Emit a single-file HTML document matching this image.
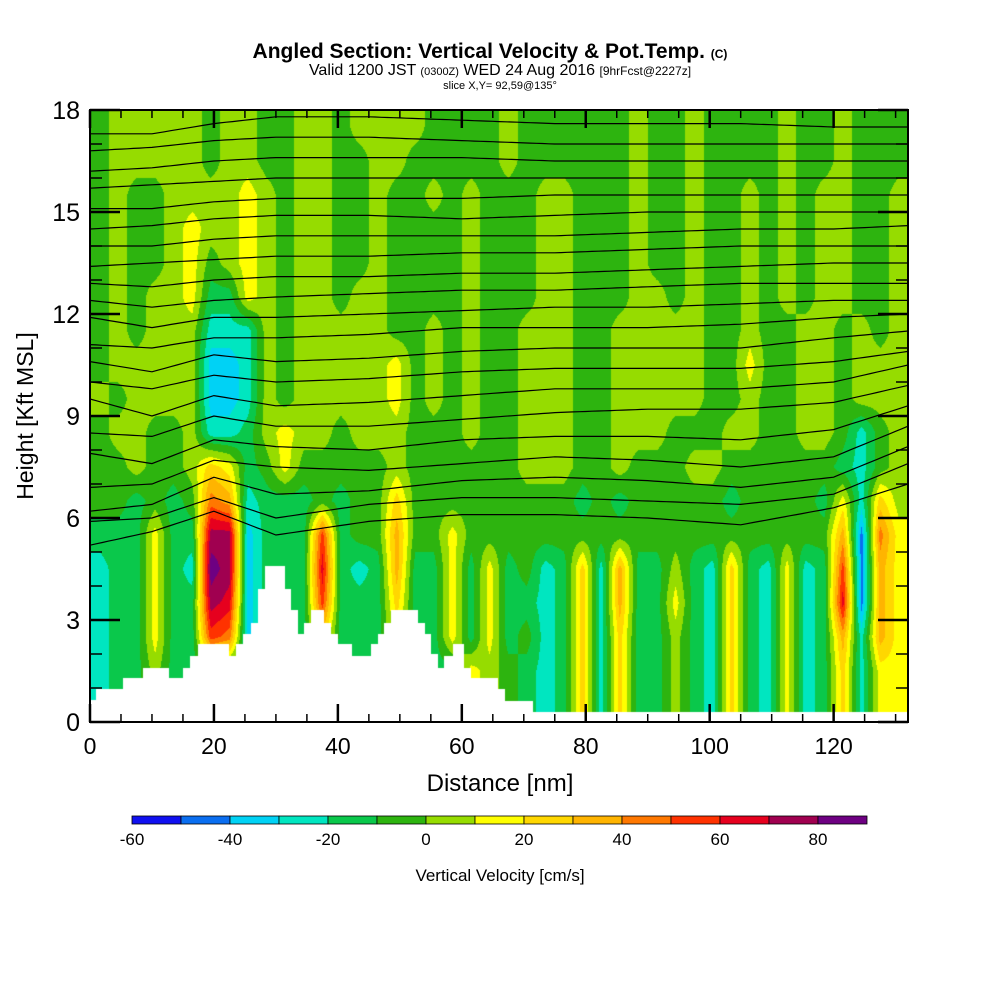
<!DOCTYPE html>
<html><head><meta charset="utf-8"><style>
html,body{margin:0;padding:0;background:#fff;}
#wrap{position:relative;width:1000px;height:1000px;overflow:hidden;}
canvas{position:absolute;left:0;top:0;}
svg{position:absolute;left:0;top:0;}
text{font-family:"Liberation Sans",sans-serif;fill:#000;}
</style></head><body>
<div id="wrap">
<canvas id="cv" width="1000" height="1000"></canvas>
<svg id="sv" width="1000" height="1000">
<text x="490" y="58" text-anchor="middle" font-size="21" font-weight="bold">Angled Section: Vertical Velocity &amp; Pot.Temp. <tspan font-size="12">(C)</tspan></text>
<text x="500" y="75" text-anchor="middle" font-size="16">Valid 1200 JST <tspan font-size="11">(0300Z)</tspan> WED 24 Aug 2016 <tspan font-size="12">[9hrFcst@2227z]</tspan></text>
<text x="500" y="89" text-anchor="middle" font-size="11">slice X,Y= 92,59@135°</text>
<text x="500" y="791" text-anchor="middle" font-size="24">Distance [nm]</text>
<text transform="translate(33,416) rotate(-90)" text-anchor="middle" font-size="23">Height [Kft MSL]</text>
<text x="500" y="881" text-anchor="middle" font-size="17">Vertical Velocity [cm/s]</text>
<g id="gTicks"></g>
<g id="gLines"></g>
<g id="gBar"></g>
<rect x="90" y="110" width="818" height="612" fill="none" stroke="#000" stroke-width="2"></rect>
</svg>
</div>
<script>
// vertical velocity codes per 3-nm column; rows listed from 17-18 kft down to 0-1 kft
const velRows = [
"56666656655665666655556555555655655556556555",
"56666656655665566555556555555655655556556555",
"56556666765665565565655566555655655656566556",
"56556766765665565555655566555655655656566556",
"56556756765665565555655566555655655656566556",
"56566744765665665555655566555665655656566556",
"56566633365666665565655666556666655655665656",
"56666622365666667565655666556666655755665666",
"65666622365666667565655666556666655655665666",
"56655633467665666555655666556665556655665356",
"55655687457555556555555666556555665555554356",
"554545a93444545585555555554545555545555473"+"86",
"444744dd2444b45595575555555555555555555591"+"a7",
"344743ed2444c43494474745348394464384373 4b1".replace(" ","")+"97",
"344744dc2444b44484474744348394474384373 4c1".replace(" ","")+"97",
"344744ba2444844474474745348384464384373493"+"97",
"344644444444444444447654348384464384373483"+"77",
"344644444444444444447654348384464384373483"+"77"
];
const codeValues = {"0":-55,"1":-45,"2":-35,"3":-25,"4":-15,"5":-5,"6":5,"7":15,"8":25,"9":35,"a":45,"b":55,"c":65,"d":75,"e":85};
const colorLevels = [-60,-50,-40,-30,-20,-10,0,10,20,30,40,50,60,70,80];
const levelColors = ["#1010f0","#0a6ef0","#00d2f5","#00e6c0","#0ac84b","#2db40f","#96dc00","#ffff00","#ffd700","#ffb400","#ff7800","#ff3200","#e6001e","#a00050","#6e0082"];
const barTickLabels = ["-60","-40","-20","0","20","40","60","80"];
const terrainX = [0,1,5.3,8.5,12.8,15,16.1,17.4,22.5,23.6,24.7,26,27.1,28.2,31.4,32.5,33.5,34.6,35.7,37.8,38.9,40,42.2,45.4,46.5,47.5,48.6,52.9,54,55,56.1,57.2,58.5,60.4,61.5,65.8,67,71.5];
const terrainH = [0.65,0.97,1.3,1.6,1.3,1.6,1.95,2.3,1.95,2.3,2.6,2.9,3.9,4.6,3.9,3.3,2.6,2.9,3.3,2.9,2.6,2.3,1.95,2.3,2.6,2.9,3.3,2.9,2.6,2.0,1.6,1.95,2.3,1.6,1.3,0.97,0.62,0.3];
const xTicks = [0,20,40,60,80,100,120];
const yTicks = [0,3,6,9,12,15,18];
const thetaKnots = [0,10,20,30,45,60,75,90,105,120,132];
const thetaLines = [
[17.3,17.3,17.6,17.8,17.8,17.7,17.6,17.6,17.6,17.5,17.5],
[16.8,16.9,17.1,17.2,17.2,17.1,17.0,17.0,17.0,17.0,17.0],
[16.2,16.3,16.5,16.6,16.6,16.6,16.5,16.5,16.5,16.5,16.5],
[15.7,15.8,15.9,16.0,16.0,16.0,16.0,16.0,16.0,16.0,16.0],
[15.1,15.1,15.3,15.4,15.4,15.4,15.5,15.5,15.5,15.5,15.5],
[14.5,14.6,14.8,14.9,14.9,14.8,14.9,15.0,15.0,15.0,15.0],
[14.0,14.0,14.2,14.3,14.3,14.3,14.3,14.4,14.5,14.5,14.6],
[13.4,13.5,13.6,13.7,13.7,13.8,13.8,13.9,14.0,14.0,14.0],
[12.9,12.8,13.0,13.1,13.1,13.2,13.2,13.3,13.4,13.5,13.5],
[12.4,12.2,12.4,12.5,12.6,12.7,12.7,12.8,12.9,12.9,12.9],
[11.9,11.6,11.9,11.9,12.0,12.1,12.2,12.2,12.3,12.4,12.4],
[11.1,11.0,11.3,11.3,11.4,11.6,11.6,11.6,11.7,11.9,12.0],
[10.6,10.3,10.8,10.6,10.7,10.9,11.0,11.0,11.0,11.3,11.5],
[10.0,9.8,10.2,10.0,10.1,10.3,10.4,10.4,10.4,10.6,10.9],
[9.5,9.0,9.6,9.3,9.4,9.6,9.8,9.8,9.8,10.0,10.5],
[8.5,8.4,9.0,8.7,8.7,8.9,9.1,9.2,9.2,9.4,9.9],
[7.9,7.6,8.3,8.1,8.0,8.3,8.4,8.4,8.3,8.6,9.3],
[6.9,7.0,7.7,7.5,7.4,7.6,7.8,7.7,7.5,7.8,8.7],
[6.2,6.4,7.2,6.7,6.8,7.1,7.2,7.1,6.9,7.2,8.1],
[5.9,6.0,6.6,6.0,6.4,6.6,6.6,6.5,6.4,6.7,7.6],
[5.2,5.6,6.2,5.5,5.9,6.1,6.1,6.0,5.8,6.3,7.0]
];

const PX0=90, PX1=908, PY0=110, PY1=722, XMAX=132, YMAX=18;
function xs(nm){return PX0+(PX1-PX0)*nm/XMAX;}
function ys(h){return PY1-(PY1-PY0)*h/YMAX;}
const NS="http://www.w3.org/2000/svg";
function terrainAt(nm){let h=0.3;for(let i=0;i<terrainX.length;i++){if(nm>=terrainX[i])h=terrainH[i];}return Math.max(h,0.3);}

const nRows=velRows.length, nCols=velRows[0].length;
function val(r,c){r=Math.max(0,Math.min(nRows-1,r));c=Math.max(0,Math.min(nCols-1,c));return codeValues[velRows[r][c]];}
function hex(c){return [parseInt(c.substr(1,2),16),parseInt(c.substr(3,2),16),parseInt(c.substr(5,2),16)];}
const rgb=levelColors.map(hex);
const cv=document.getElementById('cv');const ctx=cv.getContext('2d');
const W=PX1-PX0, H=PY1-PY0;
const img=ctx.createImageData(W,H);
const colW=XMAX/nCols;
for(let py=0;py<H;py++){
  const h=YMAX*(1-(py+0.5)/H);
  const gy=(YMAX-h)-0.5;
  const r0=Math.floor(gy), fy=gy-r0;
  for(let px=0;px<W;px++){
    const nm=XMAX*(px+0.5)/W;
    const k=(py*W+px)*4;
    if(h<terrainAt(nm)){img.data[k]=255;img.data[k+1]=255;img.data[k+2]=255;img.data[k+3]=255;continue;}
    const gx=nm/colW-0.5; const c0=Math.floor(gx), fx=gx-c0;
    const v=(1-fy)*((1-fx)*val(r0,c0)+fx*val(r0,c0+1))+fy*((1-fx)*val(r0+1,c0)+fx*val(r0+1,c0+1));
    let li=Math.floor((v-colorLevels[0])/10);li=Math.max(0,Math.min(levelColors.length-1,li));
    const col=rgb[li];
    img.data[k]=col[0];img.data[k+1]=col[1];img.data[k+2]=col[2];img.data[k+3]=255;
  }
}
ctx.putImageData(img,PX0,PY0);

const gL=document.getElementById('gLines');
thetaLines.forEach((arr,i)=>{
  let d='';
  for(let n=0;n<=XMAX;n+=1){
    let j=0;while(j<thetaKnots.length-2&&n>thetaKnots[j+1])j++;
    const t=(n-thetaKnots[j])/(thetaKnots[j+1]-thetaKnots[j]);
    const hh=arr[j]+(arr[j+1]-arr[j])*t;
    d+=(n===0?'M':'L')+xs(n).toFixed(1)+','+ys(hh).toFixed(1);
  }
  const p=document.createElementNS(NS,'path');
  p.setAttribute('d',d);p.setAttribute('fill','none');p.setAttribute('stroke','#000');p.setAttribute('stroke-width','1.2');
  
  
  gL.appendChild(p);
});

const gT=document.getElementById('gTicks');
function line(x1,y1,x2,y2,w,name){const l=document.createElementNS(NS,'line');l.setAttribute('x1',x1);l.setAttribute('y1',y1);l.setAttribute('x2',x2);l.setAttribute('y2',y2);l.setAttribute('stroke','#000');l.setAttribute('stroke-width',w);


gT.appendChild(l);}
function txt(x,y,s,size,anchor,name){const t=document.createElementNS(NS,'text');t.setAttribute('x',x);t.setAttribute('y',y);t.setAttribute('font-size',size);t.setAttribute('text-anchor',anchor);t.textContent=s;


return t;}
for(let n=0;n<=XMAX;n+=5){const major=n%20===0;const L=major?18:8;
  line(xs(n),PY1,xs(n),PY1-L,major?2.5:1.5,'x-tick');line(xs(n),PY0,xs(n),PY0+L,major?2.5:1.5,'x-tick-top');}
for(let h=0;h<=YMAX;h++){const major=h%3===0;const L=major?30:12;
  line(PX0,ys(h),PX0+L,ys(h),major?2.5:1.5,'y-tick');line(PX1,ys(h),PX1-L,ys(h),major?2.5:1.5,'y-tick-right');}
xTicks.forEach(v=>gT.appendChild(txt(xs(v),754,String(v),23,'middle','x-tick-label')));
yTicks.forEach(v=>gT.appendChild(txt(80,ys(v)+9,String(v),25,'end','y-tick-label')));

const gB=document.getElementById('gBar');
const BX0=132, BX1=867, segW=(BX1-BX0)/levelColors.length;
levelColors.forEach((c,i)=>{const r=document.createElementNS(NS,'rect');r.setAttribute('x',BX0+i*segW);r.setAttribute('y',816);r.setAttribute('width',segW);r.setAttribute('height',8);r.setAttribute('fill',c);r.setAttribute('stroke','#000');r.setAttribute('stroke-width','0.8');


gB.appendChild(r);});
barTickLabels.forEach((s,i)=>{gB.appendChild(txt(BX0+i*2*segW,845,s,17,'middle','colorbar-label'));});
</script>
</body></html>
